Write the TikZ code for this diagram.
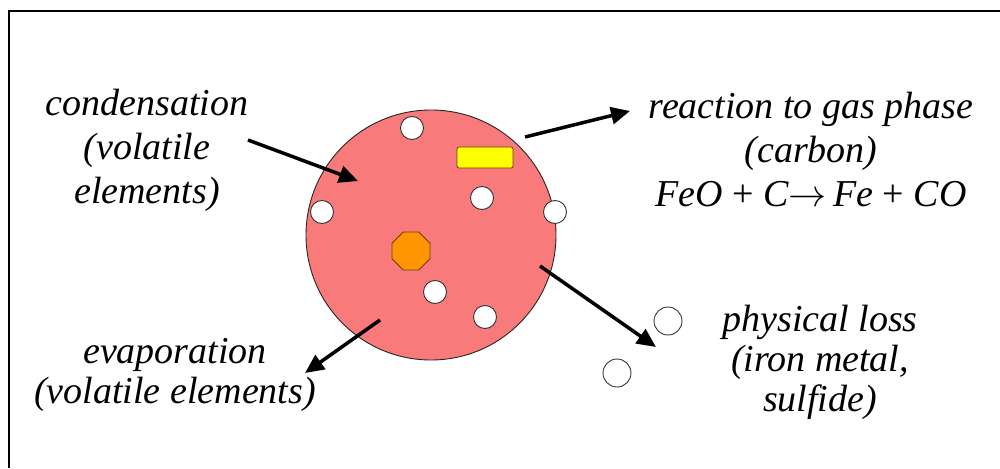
\RequirePackage{fix-cm}
\documentclass[tikz,border=0pt]{standalone}
\usepackage{fontspec}
\setmainfont{Liberation Serif}
\usetikzlibrary{arrows.meta, positioning, shapes.geometric}
\definecolor{dropred}{RGB}{248,122,122}
\definecolor{carbonyel}{RGB}{255,255,0}
\definecolor{metalorange}{RGB}{255,150,0}
\definecolor{rimbrown}{RGB}{110,60,20}

\begin{document}
\begin{tikzpicture}[
    x=1pt, y=-1pt,
    >={Triangle[length=19pt,width=17pt]},
    every node/.style={font=\fontsize{38}{44}\selectfont\itshape},
    note/.style={align=center, inner sep=0pt},
    bubble/.style={circle, draw=black!80, line width=0.9pt, fill=white, minimum size=23pt, inner sep=0pt},
    flow/.style={->, line width=3.5pt},
]
\useasboundingbox (0,0) rectangle (1000,468);
% frame (only top and left edges are in view)
\draw[line width=1.2pt] (9,468) -- (9,11) -- (1000,11);
% the droplet
\node[circle, draw=black!85, fill=dropred, line width=0.9pt, minimum size=250pt, inner sep=0pt] (drop) at (431,235) {};
% gas bubbles inside
\foreach \p [count=\i] in {(412,128),(482,198),(322,212),(555,212),(435,292),(485,317)}
    \node[bubble] (b\i) at \p {};
% carbon and metal inclusions
\node[draw=rimbrown, fill=carbonyel, rounded corners=2pt, line width=0.8pt,
      minimum width=56pt, minimum height=21pt, inner sep=0pt] (carbon) at (485,157.5) {};
\node[regular polygon, regular polygon sides=8, draw=rimbrown, fill=metalorange, line width=0.8pt,
      minimum size=41pt, inner sep=0pt] (metal) at (411,251) {};
% lost particles
\node[bubble, minimum size=28pt] (lost1) at (668,321) {};
\node[bubble, minimum size=28pt] (lost2) at (617,373) {};
% labels
\node[note] (cond) at (147,150) {condensation\\(volatile\\elements)};
\node[note] (react) at (811,150) {reaction to gas phase\\(carbon)\\FeO {\upshape+} C$\rightarrow$\,Fe {\upshape+} CO};
\node[note, font=\fontsize{38}{40}\selectfont\itshape] (evap) at (175,375) {evaporation\\(volatile elements)};
\node[note, font=\fontsize{38}{40}\selectfont\itshape] (phys) at (820,362) {physical loss\\(iron metal,\\sulfide)};
% arrows
\coordinate (condA) at (248,140);  \coordinate (condB) at (358,181);
\coordinate (reactA) at (525,137); \coordinate (reactB) at (630,111);
\coordinate (physA) at (540,266);  \coordinate (physB) at (656,347);
\coordinate (evapA) at (380,320);  \coordinate (evapB) at (305,373);
\draw[flow] (condA) -- (condB);
\draw[flow] (reactA) -- (reactB);
\draw[flow] (physA) -- (physB);
\draw[flow] (evapA) -- (evapB);
\end{tikzpicture}
\end{document}
